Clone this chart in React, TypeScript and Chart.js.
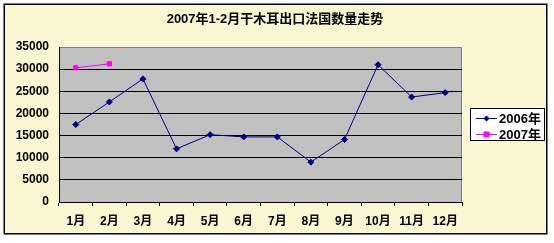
import { useEffect, useRef } from "react";
import { Chart, registerables } from "chart.js";

Chart.register(...registerables);

const TITLE = "2007年1-2月干木耳出口法国数量走势";
const MONTHS = ["1月", "2月", "3月", "4月", "5月", "6月", "7月", "8月", "9月", "10月", "11月", "12月"];
const SERIES_NAMES = ["2006年", "2007年"];
const VALUES_2006 = [17500, 22600, 27800, 12000, 15200, 14700, 14700, 9000, 14100, 31000, 23700, 24700];
const VALUES_2007 = [30300, 31200];
const Y_MIN = 0;
const Y_MAX = 35000;
const Y_STEP = 5000;

const FONT = "Arial, 'Liberation Sans', 'Noto Sans CJK SC', sans-serif";
const C2006 = "#000080";
const C2007 = "#FF00FF";

export default function App() {
  const ref = useRef<HTMLCanvasElement>(null);

  useEffect(() => {
    const canvas = ref.current!;
    const decor = {
      id: "decor",
      beforeDraw(chart: any) {
        const { ctx, chartArea: a } = chart;
        ctx.save();
        ctx.fillStyle = "#ffffff";
        ctx.fillRect(0, 0, chart.width, chart.height);
        ctx.fillStyle = "#FBF7D3";
        ctx.fillRect(4, 4, 543, 230);
        ctx.fillStyle = "#C0C0C0";
        ctx.fillRect(a.left, a.top, a.right - a.left, a.bottom - a.top);
        ctx.strokeStyle = "#808080";
        ctx.lineWidth = 1;
        ctx.beginPath();
        ctx.moveTo(a.left, a.top + 0.5);
        ctx.lineTo(a.right - 0.5, a.top + 0.5);
        ctx.lineTo(a.right - 0.5, a.bottom);
        ctx.stroke();
        ctx.restore();
      },
      afterDraw(chart: any) {
        const { ctx } = chart;
        ctx.save();
        // outer border
        ctx.strokeStyle = "#000";
        ctx.lineWidth = 1.5;
        ctx.strokeRect(4.25, 4.25, 542.5, 229.5);
        // title
        ctx.fillStyle = "#000";
        ctx.font = `bold 13px ${FONT}`;
        ctx.textAlign = "center";
        ctx.textBaseline = "middle";
        ctx.fillText(TITLE, 275, 19.5);
        // legend
        ctx.fillStyle = "#fff";
        ctx.fillRect(470.5, 108.5, 74, 32);
        ctx.strokeStyle = "#000";
        ctx.lineWidth = 1;
        ctx.strokeRect(470.5, 108.5, 74, 32);
        const rows = [
          { name: SERIES_NAMES[0], color: C2006, style: "rectRot", r: 3, y: 118.5 },
          { name: SERIES_NAMES[1], color: C2007, style: "rect", r: 3.5, y: 134.5 },
        ];
        rows.forEach((row) => {
          ctx.strokeStyle = row.color;
          ctx.lineWidth = 1;
          ctx.beginPath();
          ctx.moveTo(476, row.y);
          ctx.lineTo(497, row.y);
          ctx.stroke();
          ctx.fillStyle = row.color;
          if (row.style === "rectRot") {
            ctx.beginPath();
            ctx.moveTo(486.5, row.y - row.r);
            ctx.lineTo(486.5 + row.r, row.y);
            ctx.lineTo(486.5, row.y + row.r);
            ctx.lineTo(486.5 - row.r, row.y);
            ctx.closePath();
            ctx.fill();
          } else {
            ctx.fillRect(486.5 - 3, row.y - 3, 6, 6);
          }
          ctx.fillStyle = "#000";
          ctx.font = `bold 13px ${FONT}`;
          ctx.textAlign = "left";
          ctx.textBaseline = "middle";
          ctx.fillText(row.name, 499, row.y + 0.5);
        });
        ctx.restore();
      },
    };

    const tickFont = { family: FONT, size: 12, weight: "bold" as const };

    const chart = new Chart(canvas, {
      type: "line",
      data: {
        labels: MONTHS,
        datasets: [
          {
            label: SERIES_NAMES[0],
            data: VALUES_2006,
            borderColor: C2006,
            backgroundColor: C2006,
            borderWidth: 1,
            pointStyle: "rectRot",
            pointRadius: 3,
            pointBorderWidth: 1,
            tension: 0,
          },
          {
            label: SERIES_NAMES[1],
            data: VALUES_2007,
            borderColor: C2007,
            backgroundColor: C2007,
            borderWidth: 1,
            pointStyle: "rect",
            pointRadius: 3,
            pointBorderWidth: 1,
            tension: 0,
          },
        ],
      },
      options: {
        responsive: false,
        devicePixelRatio: 1,
        animation: false,
        layout: { padding: { top: 47, right: 92, bottom: 0, left: 0 } },
        plugins: {
          legend: { display: false },
          title: { display: false },
          tooltip: { enabled: false },
        },
        scales: {
          x: {
            type: "category",
            offset: true,
            grid: {
              offset: true,
              drawOnChartArea: false,
              drawTicks: true,
              tickLength: 4,
              color: "#000",
            },
            border: { color: "#000", width: 1 },
            ticks: {
              font: tickFont,
              color: "#000",
              padding: 8,
              maxRotation: 0,
              autoSkip: false,
            },
            afterFit(s: any) {
              s.height = 41;
            },
          },
          y: {
            min: Y_MIN,
            max: Y_MAX,
            ticks: {
              stepSize: Y_STEP,
              font: tickFont,
              color: "#000",
              padding: 10,
              callback: (v: any) => String(v),
            },
            grid: {
              drawTicks: false,
              color: (c: any) => (c.tick && c.tick.value === Y_MAX ? "rgba(0,0,0,0)" : "#000"),
            },
            border: { color: "#000", width: 1 },
            afterFit(s: any) {
              s.width = 59;
            },
          },
        },
      },
      plugins: [decor],
    });
    return () => chart.destroy();
  }, []);

  return (
    <div style={{ position: "fixed", left: 0, top: 0, width: 554, height: 243 }}>
      <canvas ref={ref} width={554} height={243} style={{ display: "block", width: 554, height: 243 }} />
    </div>
  );
}
